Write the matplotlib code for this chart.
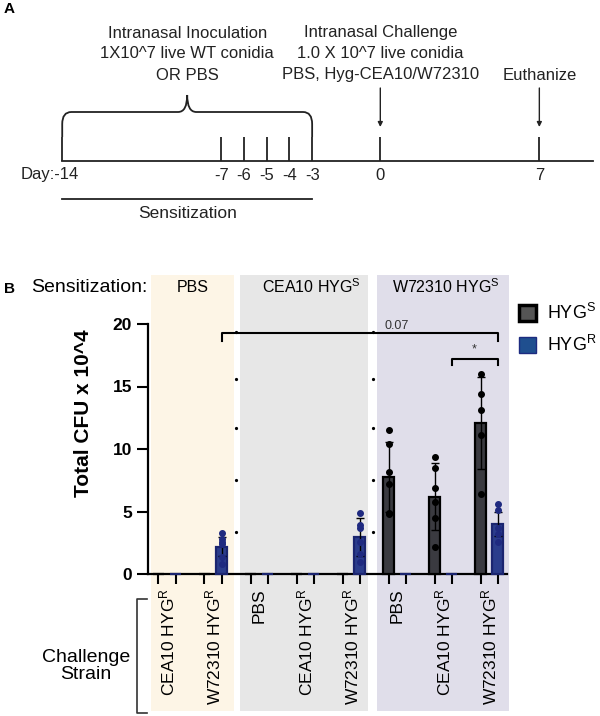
import numpy as np
import matplotlib
matplotlib.use("Agg")
import matplotlib.pyplot as plt
from matplotlib.path import Path
from matplotlib.patches import PathPatch, Rectangle, Patch
from matplotlib.lines import Line2D
from matplotlib.transforms import blended_transform_factory

plt.rcParams['font.family'] = ['Liberation Sans', 'DejaVu Sans']
plt.rcParams['mathtext.fontset'] = 'custom'
plt.rcParams['mathtext.rm'] = 'Liberation Sans'
plt.rcParams['mathtext.default'] = 'regular'

# ---- panel A data (timeline) ----
inoc_days = [-7, -6, -5, -4, -3]
start_day = -14
challenge_day = 0
end_day = 7
inoc_text = ["Intranasal Inoculation", "1X10^7 live WT conidia", "OR PBS"]
chal_text = ["Intranasal Challenge", "1.0 X 10^7 live conidia", "PBS, Hyg-CEA10/W72310"]

# ---- panel B data ----
sens_groups = ["PBS", "CEA10 HYG$^S$", "W72310 HYG$^S$"]
challenge_labels = ["CEA10 HYG$^R$", "W72310 HYG$^R$",
                    "PBS", "CEA10 HYG$^R$", "W72310 HYG$^R$",
                    "PBS", "CEA10 HYG$^R$", "W72310 HYG$^R$"]
hs_mean = [0, 0, 0, 0, 0, 7.8, 6.2, 12.1]
hs_sd = [0, 0, 0, 0, 0, 2.8, 2.7, 3.7]
hr_mean = [0, 2.2, 0, 0, 2.95, 0, 0, 4.0]
hr_sd = [0, 0.75, 0, 0, 1.5, 0, 0, 0.95]
hs_points = [[], [], [], [], [],
             [11.5, 10.4, 8.2, 7.2, 4.9, 4.8],
             [9.4, 8.5, 6.9, 5.8, 4.5, 2.2],
             [16.0, 14.4, 13.1, 11.1, 6.4]]
hr_points = [[], [3.3, 2.8, 2.6, 2.4, 1.4, 0.8],
             [], [], [4.9, 3.9, 3.7, 2.6, 1.6, 1.0],
             [], [], [5.6, 5.1, 3.7, 3.2, 2.6]]
sep_dots = [19.4, 15.6, 11.7, 7.5, 3.4]

W, H = 600, 716
fig = plt.figure(figsize=(6, 7.16), dpi=100)


def fx(px):
    return px / W


def fy(py):
    return 1 - py / H


# ================= Panel A =================
axA = fig.add_axes([0, fy(230), 1, 230 / H])
px_per_day, px0 = 22.72, 380.3
axA.set_xlim((0 - px0) / px_per_day, (W - px0) / px_per_day)
axA.set_ylim(230, 0)
axA.axis("off")

# main line and ticks
axA.plot([start_day, (593 - px0) / px_per_day], [161, 161], color="#222222", lw=1.3)
axA.vlines([start_day] + inoc_days + [challenge_day, end_day], 137, 161, color="#222222", lw=1.3)

# brace over sensitization period
cx = (start_day + inoc_days[-1]) / 2
r = 0.4
verts = [(start_day, 137), (start_day, 124), (start_day, 112), (start_day + r, 112),
         (cx - r, 112), (cx, 112), (cx, 95), (cx, 112), (cx + r, 112),
         (inoc_days[-1] - r, 112), (inoc_days[-1], 112), (inoc_days[-1], 124),
         (inoc_days[-1], 137)]
codes = [Path.MOVETO, Path.LINETO, Path.CURVE3, Path.CURVE3,
         Path.LINETO, Path.CURVE3, Path.CURVE3, Path.CURVE3, Path.CURVE3,
         Path.LINETO, Path.CURVE3, Path.CURVE3, Path.LINETO]
axA.add_patch(PathPatch(Path(verts, codes), fill=False, ec="#222222", lw=1.3))

for i, line in enumerate(inoc_text):
    axA.text(cx, 33 + 21 * i, line, ha="center", va="center", fontsize=12, color="#222222")
for i, line in enumerate(chal_text):
    axA.text(challenge_day, 33 + 21 * i, line, ha="center", va="center", fontsize=12, color="#222222")
axA.text(end_day, 75, "Euthanize", ha="center", va="center", fontsize=12, color="#222222")

for d in [challenge_day, end_day]:
    axA.annotate("", xy=(d, 127), xytext=(d, 88),
                 arrowprops=dict(arrowstyle="-|>", color="#222222", lw=1,
                                 mutation_scale=7, shrinkA=0, shrinkB=0))

axA.text(start_day + 0.72, 175, "Day:-14", ha="right", va="center", fontsize=12, color="#222222")
for d in inoc_days + [challenge_day, end_day]:
    axA.text(d, 175, str(d), ha="center", va="center", fontsize=12, color="#222222")

axA.plot([start_day, inoc_days[-1]], [199, 199], color="#222222", lw=1.3)
axA.text(cx, 213, "Sensitization", ha="center", va="center", fontsize=12.5, color="#222222")

fig.text(fx(4), fy(9), "A", fontsize=11, fontweight="bold", va="center")
fig.text(fx(4), fy(289), "B", fontsize=11, fontweight="bold", va="center")

# ================= Panel B =================
ax = fig.add_axes([fx(148), fy(574), (507 - 148) / W, 250 / H])
ax.patch.set_facecolor("none")
groups = np.arange(len(challenge_labels))
off = 0.185
bw = 0.25
ax.set_xlim(-0.413, 7.39)
ax.set_ylim(0, 20)

# background shading for each sensitization group
bg_spans = [(-0.35, 1.46, "#fdf5e6"), (1.59, 4.37, "#e7e7e7"), (4.565, 7.435, "#e0deea")]
trans = blended_transform_factory(ax.transData, fig.transFigure)
for x0, x1, c in bg_spans:
    fig.add_artist(Rectangle((x0, fy(711)), x1 - x0, fy(275) - fy(711),
                             transform=trans, color=c, zorder=-5, lw=0))

s_col, r_col = "#3a3a40", "#2b3d8c"
# bars drawn above the spine so zero-height bars still show as a short line
ax.bar(groups - off, hs_mean, bw, color=s_col, edgecolor="black", lw=1.6, zorder=3, clip_on=False)
ax.bar(groups + off, hr_mean, bw, color=r_col, edgecolor="#1b2570", lw=1.6, zorder=3, clip_on=False)
for g in groups:
    if hs_mean[g] > 0:
        ax.errorbar(g - off, hs_mean[g], yerr=hs_sd[g], fmt="none", ecolor="black",
                    elinewidth=1, capsize=3, capthick=1, zorder=4)
        ax.plot([g - off] * len(hs_points[g]), hs_points[g], "o", color="black", ms=4, zorder=5)
    if hr_mean[g] > 0:
        ax.errorbar(g + off, hr_mean[g], yerr=hr_sd[g], fmt="none", ecolor="black",
                    elinewidth=1, capsize=3, capthick=1, zorder=4)
        ax.plot([g + off] * len(hr_points[g]), hr_points[g], "o", color="#1f2a80", ms=4, zorder=5)

# little separator dots between shaded blocks
for xs in [1.5, 4.48]:
    ax.plot([xs] * len(sep_dots), sep_dots, "o", color="black", ms=1.3, zorder=3)

# significance brackets
bk = dict(color="black", lw=1.5, clip_on=False, zorder=5)
ax.plot([1 + off, 1 + off, 7 + off, 7 + off], [18.65, 19.3, 19.3, 18.65], **bk)
ax.text(4.72, 19.85, "0.07", fontsize=9, color="#333333", va="center", ha="left")
ax.plot([6 + off, 6 + off, 7 + off, 7 + off], [16.75, 17.2, 17.2, 16.75], **bk)
ax.text(6.68, 18.0, "*", fontsize=9, color="#333333", va="center", ha="center")

for s in ["top", "right"]:
    ax.spines[s].set_visible(False)
for s in ["left", "bottom"]:
    ax.spines[s].set_linewidth(1.6)
ax.set_yticks([0, 5, 10, 15, 20])
ax.tick_params(axis="y", length=8, width=1.5, labelsize=12.5)
for lab in ax.get_yticklabels():
    lab.set_fontweight("bold")
ax.set_xticks(np.concatenate([groups - off, groups + off]))
ax.set_xticklabels([])
ax.tick_params(axis="x", which="major", length=7, width=1.5)
ax.set_xticks(groups, challenge_labels, minor=True)
ax.tick_params(axis="x", which="minor", length=0, pad=10, labelsize=12.5, labelrotation=90)

ax.set_ylabel("Total CFU x 10^4", fontsize=15, fontweight="bold")
ax.yaxis.set_label_coords((93 - 148) / 359, (574 - 413) / 250)

# sensitization headers
fig.text(fx(147), fy(287), "Sensitization:", ha="right", va="center", fontsize=14)
for xh, lab in zip([0.55, 3.15, 6.05], sens_groups):
    ax.text(xh, fy(287), lab, transform=trans, ha="center", va="center", fontsize=11.5)

# challenge strain bracket
fig.add_artist(Line2D([fx(147), fx(137), fx(137), fx(147)], [fy(599), fy(599), fy(713), fy(713)],
                      color="#333333", lw=1.2))
fig.text(fx(86), fy(666), "Challenge\nStrain", ha="center", va="center", fontsize=14,
         linespacing=1.05)

# legend
handles = [Patch(facecolor="#555555", edgecolor="black", lw=2.5),
           Patch(facecolor="#1f4f8f", edgecolor="#1d2b80", lw=1)]
fig.legend(handles, ["HYG$^S$", "HYG$^R$"], loc="upper left",
           bbox_to_anchor=(fx(519), fy(303)), frameon=False, fontsize=13,
           handlelength=0.95, handleheight=1.0, labelspacing=0.65, handletextpad=0.6,
           borderpad=0, borderaxespad=0)

fig.savefig("out.png", dpi=100)
